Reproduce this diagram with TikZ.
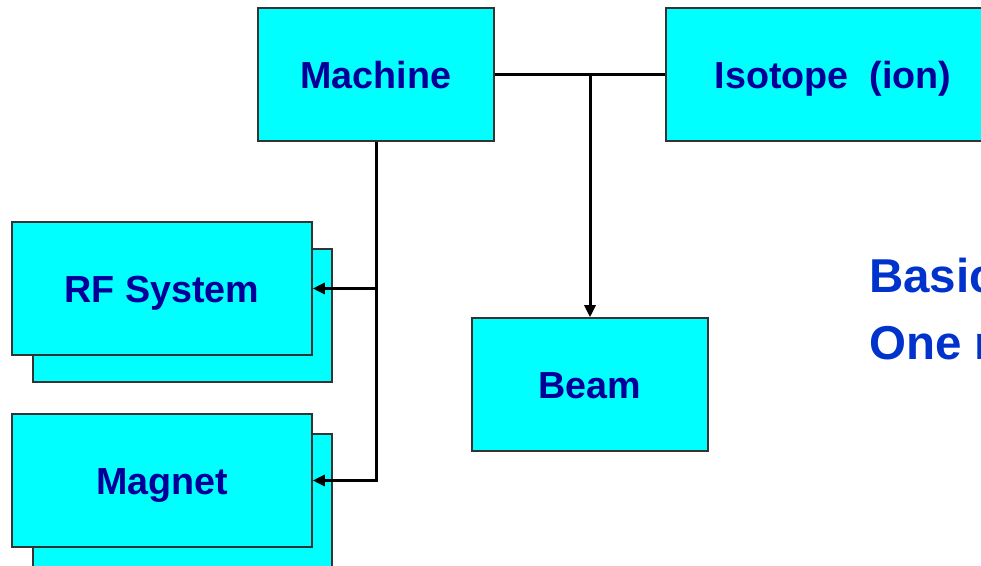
\documentclass[tikz,border=0pt]{standalone}
\usepackage{fontspec}
\setmainfont{Liberation Sans}
\usetikzlibrary{arrows.meta}
\definecolor{boxfill}{HTML}{00FFFF}
\definecolor{boxtext}{HTML}{000099}
\definecolor{sidetext}{HTML}{0033CC}
\definecolor{boxline}{HTML}{333333}
\begin{document}
\begin{tikzpicture}[x=1bp,y=-1bp,
  box/.style={draw=boxline, line width=1.5bp, fill=boxfill, minimum width=#1,
    minimum height=133bp, inner sep=0pt, text=boxtext,
    text height=28bp, text depth=0bp,
    font=\fontsize{37.7bp}{45bp}\selectfont\bfseries},
  box/.default=236bp,
  conn/.style={draw=black, line width=3bp},
  arr/.style={-{Triangle[length=12bp,width=11bp]}},
  side/.style={inner sep=0pt, text=sidetext, anchor=base west,
    font=\fontsize{47.5bp}{57bp}\selectfont\bfseries}]
\useasboundingbox (0,0) rectangle (981,566);
\clip (0,0) rectangle (981,566);
% stacked back boxes
\node[box=299bp] (rfback) at (182.5,315.5) {};
\node[box=299bp] (magback) at (182.5,500.5) {};
% main boxes
\node[box] (machine) at (376,74.5) {Machine};
\node[box=334bp] (isotope) at (833,74.5) {Isotope\ \ (ion)};
\node[box] (beam) at (590,384.5) {Beam};
\node[box=300bp] (rf) at (162,288.5) {RF System};
\node[box=300bp] (magnet) at (162,480.5) {Magnet};
% connectors
\coordinate (j) at (beam.north |- machine.east);
\draw[conn] (machine.east) -- (isotope.west);
\draw[conn,arr] (j) -- (beam.north);
\draw[conn,arr] (machine.south) |- (magnet.east);
\coordinate (k) at (machine.south |- rf.east);
\draw[conn,arr] (k) -- (rf.east);
% side text
\node[side] (basic) at (869,293) {Basic};
\node[side] (one) at (869,359) {One r};
\end{tikzpicture}
\end{document}
